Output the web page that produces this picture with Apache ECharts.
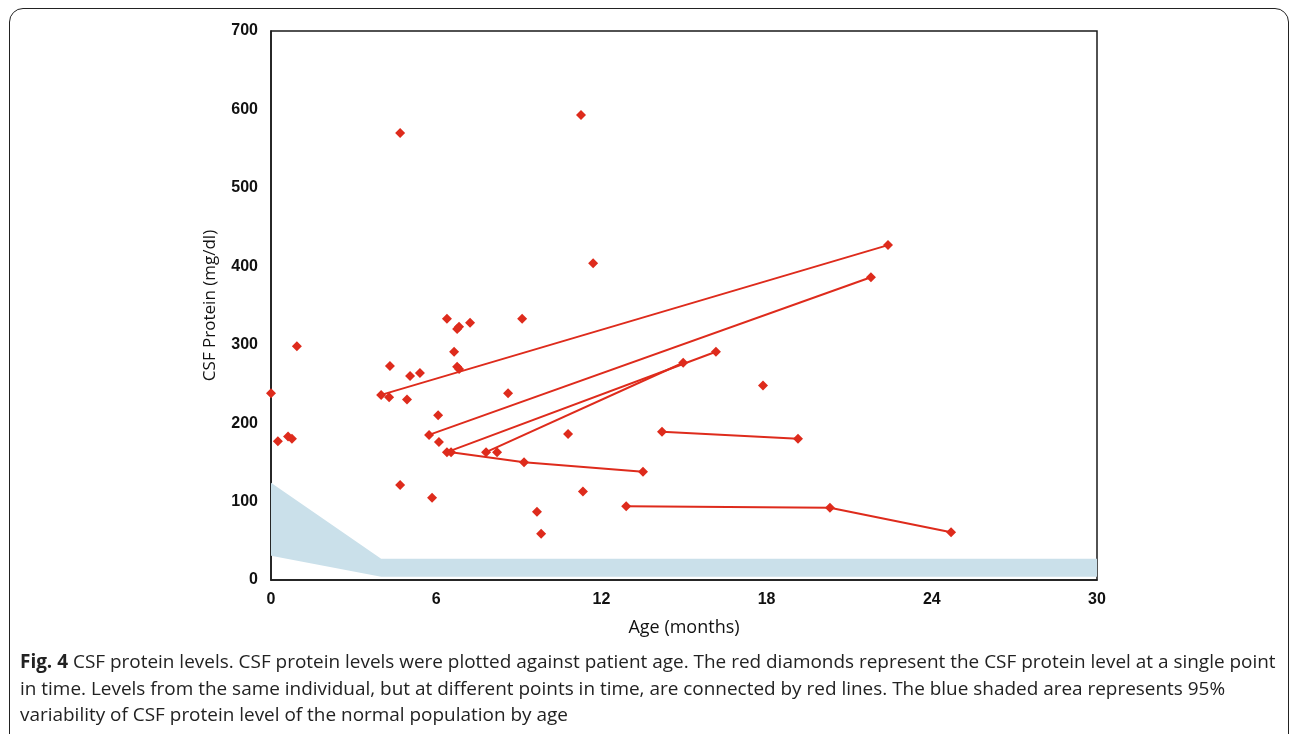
<!DOCTYPE html>
<html>
<head>
<meta charset="utf-8">
<script src="https://cdn.jsdelivr.net/npm/echarts@6/dist/echarts.min.js"></script>
<style>
  html, body { margin: 0; padding: 0; background: #fff; overflow: hidden; }
  #frame {
    position: absolute; left: 9px; top: 8px; width: 1280px; height: 740px;
    border: 1.5px solid #222; border-radius: 14px; box-sizing: border-box;
  }
  #main { position: absolute; left: 0; top: 0; width: 1290px; height: 734px; }
  #caption {
    position: absolute; left: 20px; top: 648px;
    font-family: 'Open Sans', sans-serif; font-size: 18.95px; line-height: 26.5px; color: #222;
  }
  #caption div { white-space: nowrap; }
</style>
</head>
<body>
<div id="frame"></div>
<div id="main"></div>
<div id="caption">
  <div><b>Fig. 4</b> CSF protein levels. CSF protein levels were plotted against patient age. The red diamonds represent the CSF protein level at a single point</div>
  <div>in time. Levels from the same individual, but at different points in time, are connected by red lines. The blue shaded area represents 95%</div>
  <div>variability of CSF protein level of the normal population by age</div>
</div>
<script>
// normal range band (95% variability)
const bandAge = [0, 4, 30];
const bandUpper = [124, 27, 27];
const bandLower = [31, 4, 4];

// single measurements [age, protein]
const singles = [
  [0, 238], [0.25, 177], [0.62, 183], [0.76, 180], [0.94, 298],
  [4.29, 233], [4.32, 273], [4.69, 570], [4.69, 121], [4.94, 230],
  [5.05, 260], [5.41, 264], [5.85, 105], [6.07, 210], [6.10, 176],
  [6.39, 333], [6.65, 291], [6.76, 320], [6.83, 323], [6.76, 272],
  [6.83, 269], [7.23, 328], [8.21, 163], [8.61, 238], [9.12, 333],
  [9.66, 87], [9.81, 59], [10.79, 186], [11.26, 593], [11.33, 113],
  [11.70, 404], [17.87, 248]
];

// repeated measurements, one array per individual
const patient1 = [[4.0, 236], [22.41, 427]];
const patient2 = [[5.74, 185], [21.79, 386]];
const patient3 = [[6.39, 163], [16.16, 291]];
const patient4 = [[6.54, 163], [9.19, 150], [13.51, 138]];
const patient5 = [[7.81, 163], [14.97, 277]];
const patient6 = [[14.2, 189], [19.14, 180]];
const patient7 = [[12.9, 94], [20.3, 92], [24.7, 61]];

const xTicks = [0, 6, 12, 18, 24, 30];
const yTicks = [0, 100, 200, 300, 400, 500, 600, 700];

const red = '#de2b1c';
const patients = [patient1, patient2, patient3, patient4, patient5, patient6, patient7];

let myChart = echarts.init(document.getElementById('main'));

const axisText = { fontFamily: 'Liberation Sans', fontWeight: 'bold', fontSize: 16, color: '#111' };

let series = [{
  type: 'custom',
  z: 1,
  silent: true,
  clip: true,
  data: [0],
  renderItem: function (params, api) {
    let pts = [];
    for (let i = 0; i < bandAge.length; i++) pts.push(api.coord([bandAge[i], bandUpper[i]]));
    for (let i = bandAge.length - 1; i >= 0; i--) pts.push(api.coord([bandAge[i], bandLower[i]]));
    return { type: 'polygon', shape: { points: pts }, style: { fill: '#cae0ea' } };
  }
}];

patients.forEach(function (p) {
  series.push({
    type: 'line',
    z: 3,
    data: p,
    symbol: 'diamond',
    symbolSize: 10,
    showAllSymbol: true,
    lineStyle: { color: red, width: 2 },
    itemStyle: { color: red }
  });
});

series.push({
  type: 'scatter',
  z: 4,
  data: singles,
  symbol: 'diamond',
  symbolSize: 10,
  itemStyle: { color: red, opacity: 1 }
});

let option = {
  animation: false,
  grid: { left: 271, top: 31, right: 193, bottom: 154, show: true, borderColor: '#1a1a1a', borderWidth: 1.5 },
  xAxis: {
    type: 'value', min: xTicks[0], max: xTicks[xTicks.length - 1], interval: 6,
    axisLine: { show: true, onZero: false, lineStyle: { color: '#1a1a1a', width: 1.5 } },
    axisTick: { show: false },
    splitLine: { show: false },
    axisLabel: Object.assign({ margin: 12 }, axisText),
    name: 'Age (months)', nameLocation: 'middle', nameGap: 39,
    nameTextStyle: { fontFamily: 'Open Sans', fontSize: 18, color: '#111' }
  },
  yAxis: {
    type: 'value', min: yTicks[0], max: yTicks[yTicks.length - 1], interval: 100,
    axisLine: { show: true, onZero: false, lineStyle: { color: '#1a1a1a', width: 1.5 } },
    axisTick: { show: false },
    splitLine: { show: false },
    axisLabel: Object.assign({ margin: 13 }, axisText),
    name: 'CSF Protein (mg/dl)', nameLocation: 'middle', nameGap: 52,
    nameTextStyle: { fontFamily: 'Open Sans', fontSize: 17, color: '#111' }
  },
  series: series
};
myChart.setOption(option);
</script>
</body>
</html>
